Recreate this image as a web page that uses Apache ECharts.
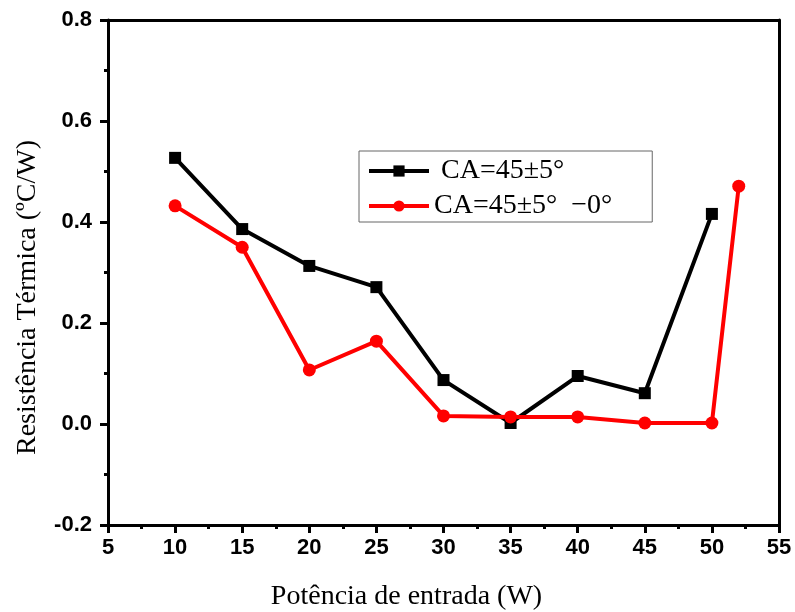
<!DOCTYPE html>
<html><head><meta charset="utf-8">
<script src="https://cdn.jsdelivr.net/npm/echarts@6/dist/echarts.min.js"></script>
<style>html,body{margin:0;padding:0;background:#fff}#c{width:795px;height:612px}</style>
</head><body><div id="c"></div>
<script>
const xBlack = [10, 15, 20, 25, 30, 35, 40, 45, 50];
const yBlack = [0.527, 0.386, 0.313, 0.271, 0.087, 0.002, 0.095, 0.061, 0.416];
const xRed = [10, 15, 20, 25, 30, 35, 40, 45, 50, 52];
const yRed = [0.432, 0.350, 0.107, 0.164, 0.016, 0.014, 0.014, 0.002, 0.002, 0.471];
const nameBlack = ' CA=45±5°';
const nameRed = 'CA=45±5°  −0°';
const xTicks = [5, 10, 15, 20, 25, 30, 35, 40, 45, 50, 55];
const yTicks = [-0.2, 0.0, 0.2, 0.4, 0.6, 0.8];

const chart = echarts.init(document.getElementById('c'));
const axisLbl = {fontFamily: 'Liberation Sans, Arial', fontWeight: 'bold', fontSize: 22, color: '#000'};
const serif = 'Liberation Serif, Times New Roman';
chart.setOption({
  animation: false,
  grid: {left: 108, right: 16, top: 20, bottom: 87, containLabel: false, outerBoundsMode: 'none'},
  legend: {
    orient: 'vertical', left: 359, top: 151,
    itemWidth: 60, itemHeight: 14, itemGap: 7,
    padding: [6, 40, 2, 8],
    borderColor: '#666', borderWidth: 1,
    textStyle: {fontFamily: serif, fontSize: 28, lineHeight: 28, color: '#000'},
    data: [
      {name: nameBlack, lineStyle: {width: 4, color: '#000'}},
      {name: nameRed, lineStyle: {width: 4, color: '#ff0000'}}
    ]
  },
  xAxis: [{
    type: 'value', min: 5, max: 55, interval: 5,
    name: 'Potência de entrada (W)', nameLocation: 'middle', nameGap: 58,
    nameTextStyle: {fontFamily: serif, fontSize: 28, color: '#000', padding: [0, 74, 0, 0]},
    axisLine: {onZero: false, lineStyle: {color: '#000', width: 3}},
    axisTick: {show: true, inside: false, length: 8, lineStyle: {color: '#000', width: 3}},
    minorTick: {show: true, splitNumber: 2, length: 4, lineStyle: {color: '#000', width: 3}},
    axisLabel: Object.assign({margin: 12, formatter: v => xTicks.includes(v) ? String(v) : ''}, axisLbl),
    splitLine: {show: false}
  }, {
    type: 'value', min: 5, max: 55, position: 'top',
    axisLine: {show: true, onZero: false, lineStyle: {color: '#000', width: 3}},
    axisTick: {show: false}, axisLabel: {show: false}, splitLine: {show: false}
  }],
  yAxis: [{
    type: 'value', min: -0.2, max: 0.8, interval: 0.2,
    name: 'Resistência Térmica (ºC/W)', nameLocation: 'middle', nameGap: 66,
    nameTextStyle: {fontFamily: serif, fontSize: 28, color: '#000', padding: [0, 50, 0, 0]},
    axisLine: {show: true, onZero: false, lineStyle: {color: '#000', width: 3}},
    axisTick: {show: true, inside: false, length: 8, lineStyle: {color: '#000', width: 3}},
    minorTick: {show: true, splitNumber: 2, length: 4, lineStyle: {color: '#000', width: 3}},
    axisLabel: Object.assign({margin: 16, formatter: v => v.toFixed(1)}, axisLbl),
    splitLine: {show: false}
  }, {
    type: 'value', min: -0.2, max: 0.8, position: 'right',
    axisLine: {show: true, onZero: false, lineStyle: {color: '#000', width: 3}},
    axisTick: {show: false}, axisLabel: {show: false}, splitLine: {show: false}
  }],
  series: [{
    name: nameBlack, type: 'line',
    data: xBlack.map((x, i) => [x, yBlack[i]]),
    symbol: 'rect', symbolSize: 12,
    lineStyle: {color: '#000', width: 4},
    itemStyle: {color: '#000'}
  }, {
    name: nameRed, type: 'line',
    data: xRed.map((x, i) => [x, yRed[i]]),
    symbol: 'circle', symbolSize: 13,
    lineStyle: {color: '#ff0000', width: 4},
    itemStyle: {color: '#ff0000'}
  }]
});
</script></body></html>
